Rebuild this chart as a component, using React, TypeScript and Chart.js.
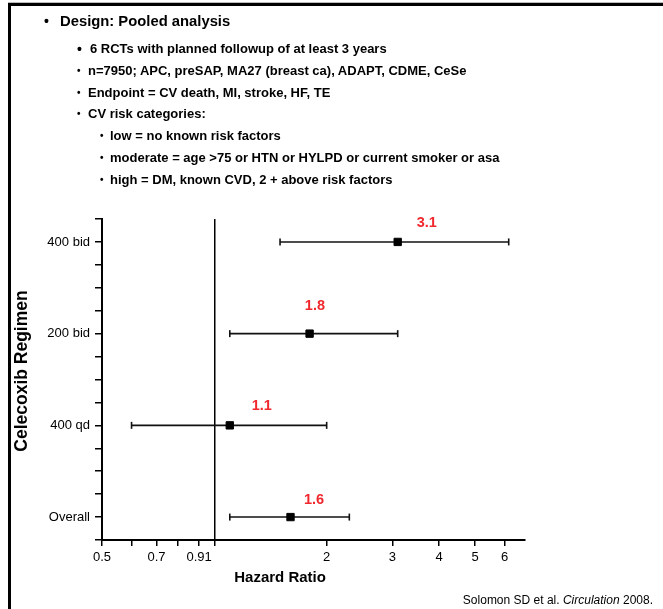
import React, { useEffect, useRef } from 'react';
import { Chart, registerables } from 'chart.js';

Chart.register(...registerables);

// ---- data ----
const regimens = ['400 bid', '200 bid', '400 qd', 'Overall'];
const rowPositions = [12, 8, 4, 0];
const hazardRatios = [3.1, 1.8, 1.1, 1.6];
const lowerCI = [1.5, 1.1, 0.6, 1.1];
const upperCI = [6.15, 3.1, 2.0, 2.3];
const valueLabels = ['3.1', '1.8', '1.1', '1.6'];
const valueLabelHR = [3.71, 1.86, 1.34, 1.85];
const valueLabelRow = [12.82, 9.2, 4.84, 0.74];
const xTickValues = [0.5, 0.6, 0.7, 0.8, 0.91, 1, 2, 3, 4, 5, 6];
const xTickLabels = ['0.5', '', '0.7', '', '0.91', '', '2', '3', '4', '5', '6'];
const referenceHR = 1;
const xTitle = 'Hazard Ratio';
const yTitle = 'Celecoxib Regimen';
const headerLines = [
  { level: 0, text: 'Design: Pooled analysis' },
  { level: 1, text: '6 RCTs with planned followup of at least 3 years' },
  { level: 1, text: 'n=7950; APC, preSAP, MA27 (breast ca), ADAPT, CDME, CeSe' },
  { level: 1, text: 'Endpoint = CV death, MI, stroke, HF, TE' },
  { level: 1, text: 'CV risk categories:' },
  { level: 2, text: 'low = no known risk factors' },
  { level: 2, text: 'moderate = age >75 or HTN or HYLPD or current smoker or asa' },
  { level: 2, text: 'high = DM, known CVD, 2 + above risk factors' },
];

const FONT = '"Liberation Sans", Arial, Helvetica, sans-serif';

const titlesPlugin = {
  id: 'titlesAndLabels',
  afterDatasetsDraw(chart: any) {
    const { ctx, scales } = chart;
    const xs = scales.x;
    const ys = scales.y;
    ctx.save();
    // value labels
    ctx.fillStyle = '#f0282d';
    ctx.font = `bold 14.5px ${FONT}`;
    ctx.textAlign = 'center';
    ctx.textBaseline = 'middle';
    valueLabels.forEach((t, i) => {
      ctx.fillText(t, xs.getPixelForValue(valueLabelHR[i]), ys.getPixelForValue(valueLabelRow[i]));
    });
    // x title
    ctx.fillStyle = '#000';
    ctx.font = `bold 15px ${FONT}`;
    ctx.fillText(xTitle, xs.getPixelForValue(1.5), xs.bottom - 31);
    // y title
    ctx.font = `bold 17.5px ${FONT}`;
    ctx.translate(22.5, (ys.top + ys.bottom) / 2 - 8.5);
    ctx.rotate(-Math.PI / 2);
    ctx.fillText(yTitle, 0, 0);
    ctx.restore();
  },
};

export default function App() {
  const canvasRef = useRef<HTMLCanvasElement>(null);

  useEffect(() => {
    const canvas = canvasRef.current;
    if (!canvas) return;
    const ciDatasets = rowPositions.map((row, i) => ({
      type: 'scatter' as const,
      label: regimens[i] + ' CI',
      data: [
        { x: lowerCI[i], y: row },
        { x: upperCI[i], y: row },
      ],
      showLine: true,
      borderColor: '#111',
      borderWidth: 1.6,
      pointStyle: 'line' as const,
      rotation: 90,
      pointRotation: 90,
      pointRadius: 3.5,
      pointBorderWidth: 1.6,
      pointBorderColor: '#111',
      pointBackgroundColor: '#111',
      order: 1,
    }));
    const chart = new Chart(canvas, {
      type: 'scatter',
      data: {
        datasets: [
          {
            label: 'Hazard ratio',
            data: rowPositions.map((row, i) => ({ x: hazardRatios[i], y: row })),
            pointStyle: 'rect',
            pointRadius: 5.2,
            pointBorderWidth: 1,
            pointBackgroundColor: '#000',
            pointBorderColor: '#000',
            order: 0,
          } as any,
          ...ciDatasets,
        ],
      },
      options: {
        animation: false,
        responsive: false,
        devicePixelRatio: 1,
        layout: { padding: { top: 219, left: 0, right: 138, bottom: 0 } },
        plugins: {
          legend: { display: false },
          tooltip: { enabled: false },
        },
        scales: {
          x: {
            type: 'logarithmic',
            min: 0.5,
            max: 6.8,
            afterBuildTicks: (scale: any) => {
              scale.ticks = xTickValues.map((v) => ({ value: v }));
            },
            afterFit: (scale: any) => {
              scale.height = 69;
            },
            ticks: {
              autoSkip: false,
              maxRotation: 0,
              padding: 4,
              color: '#000',
              font: { family: FONT, size: 13 },
              callback: (_v: any, index: number) => xTickLabels[index],
            },
            grid: {
              display: true,
              drawOnChartArea: true,
              color: (c: any) => (c.tick && c.tick.value === referenceHR ? '#000' : 'rgba(0,0,0,0)'),
              lineWidth: 1.5,
              tickColor: '#000',
              tickLength: 6,
            },
            border: { display: true, color: '#000', width: 2 },
          },
          y: {
            type: 'linear',
            min: -1,
            max: 13,
            afterFit: (scale: any) => {
              scale.width = 102;
            },
            ticks: {
              stepSize: 1,
              autoSkip: false,
              padding: 5,
              color: '#000',
              font: { family: FONT, size: 13 },
              callback: (v: any) => {
                const i = rowPositions.indexOf(Number(v));
                return i >= 0 ? regimens[i] : '';
              },
            },
            grid: {
              display: true,
              drawOnChartArea: false,
              color: '#000',
              tickColor: '#000',
              lineWidth: 1.5,
              tickLength: 7,
            },
            border: { display: true, color: '#000', width: 2 },
          },
        },
      } as any,
      plugins: [titlesPlugin],
    });
    return () => chart.destroy();
  }, []);

  const levelStyle = [
    { bulletX: 47, textX: 60, size: 14.8, bulletSize: 14 },
    { bulletX: 80, textX: 88, size: 13, bulletSize: 10 },
    { bulletX: 103, textX: 110, size: 13, bulletSize: 10 },
  ];
  const lineCenters = [21, 49, 70.8, 92.6, 114.4, 136.2, 158, 179.8];

  return (
    <div
      style={{
        position: 'absolute',
        left: 0,
        top: 0,
        width: 663,
        height: 609,
        background: '#fff',
        overflow: 'hidden',
        fontFamily: FONT,
      }}
    >
      <canvas ref={canvasRef} width={663} height={609} style={{ position: 'absolute', left: 0, top: 0 }} />
      <div style={{ position: 'absolute', left: 8, top: 2, width: 655, height: 1, background: '#bbb' }} />
      <div style={{ position: 'absolute', left: 8, top: 3, width: 655, height: 3, background: '#000' }} />
      <div style={{ position: 'absolute', left: 8, top: 3, width: 3, height: 606, background: '#000' }} />
      {headerLines.map((ln, i) => {
        const st = levelStyle[ln.level];
        const cy = lineCenters[i];
        const textX = i === 1 ? 90 : st.textX;
        const bSize = i === 1 ? 14 : st.bulletSize;
        return (
          <React.Fragment key={i}>
            <div
              style={{
                position: 'absolute',
                left: st.bulletX - 3,
                top: cy - 8,
                height: 16,
                lineHeight: '16px',
                fontSize: bSize,
                fontWeight: 'bold',
                color: '#000',
              }}
            >
              •
            </div>
            <div
              style={{
                position: 'absolute',
                left: textX,
                top: cy - 8,
                height: 16,
                lineHeight: '16px',
                fontSize: st.size,
                fontWeight: 'bold',
                whiteSpace: 'nowrap',
                color: '#000',
              }}
            >
              {ln.text}
            </div>
          </React.Fragment>
        );
      })}
      <div
        style={{
          position: 'absolute',
          right: 10,
          top: 593,
          lineHeight: '14px',
          fontSize: 12,
          whiteSpace: 'nowrap',
          color: '#000',
        }}
      >
        Solomon SD et al. <i>Circulation</i> 2008.
      </div>
    </div>
  );
}
